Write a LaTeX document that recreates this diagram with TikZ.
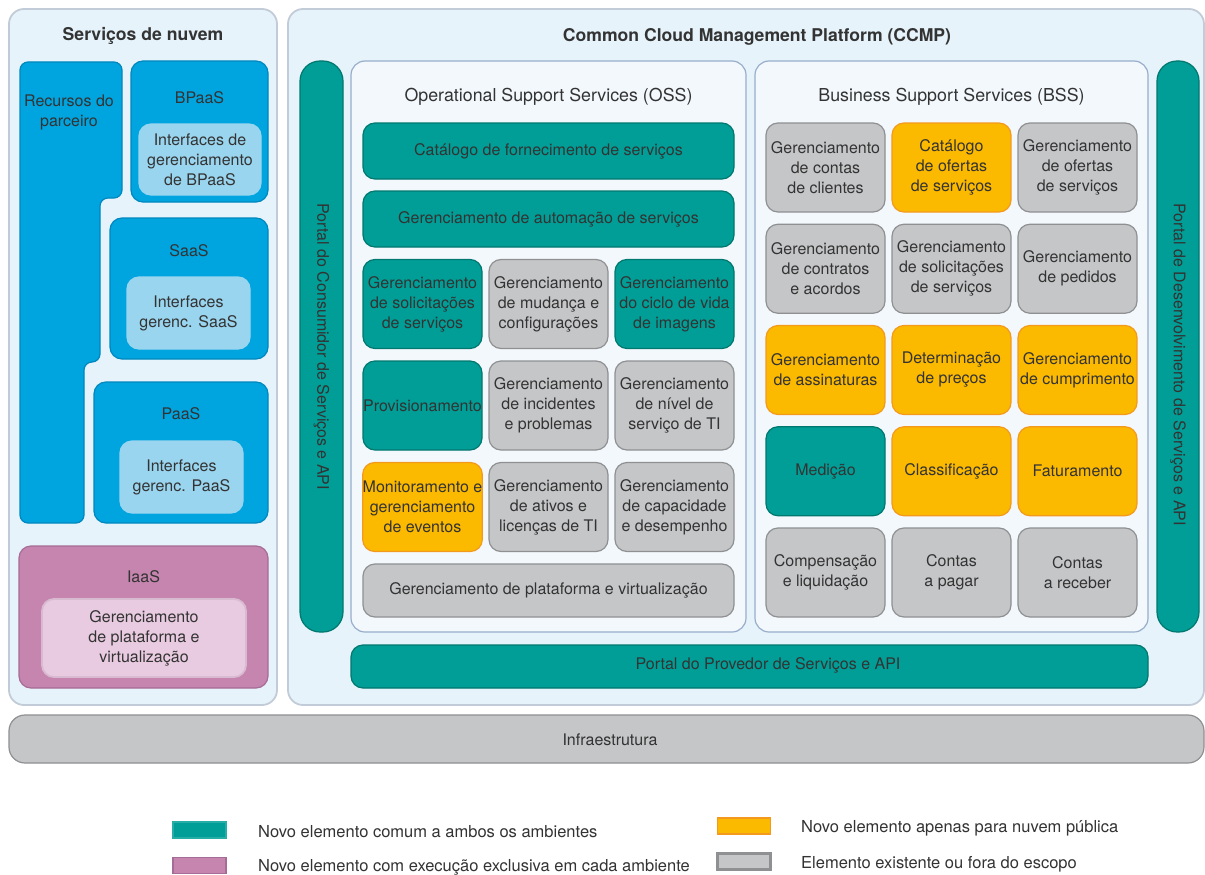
\documentclass[tikz,border=0pt]{standalone}
\usepackage{fontspec}
\setmainfont{TeX Gyre Heros}
\usepackage{tikz}
\usetikzlibrary{positioning}
\usepackage{xcolor}

\definecolor{txt}{HTML}{333333}
\definecolor{outerfill}{HTML}{E7F3FB}
\definecolor{outeredge}{HTML}{C2CCD8}
\definecolor{innerfill}{HTML}{F3F8FD}
\definecolor{inneredge}{HTML}{98AECA}
\definecolor{cblue}{HTML}{00A4DF}
\definecolor{cblueb}{HTML}{0087BE}
\definecolor{clblue}{HTML}{9AD5EF}
\definecolor{cpurple}{HTML}{C585AF}
\definecolor{cpurpleb}{HTML}{A56C96}
\definecolor{clpurple}{HTML}{E8CBE0}
\definecolor{clpurpleb}{HTML}{D8BBD0}
\definecolor{cteal}{HTML}{009E96}
\definecolor{ctealb}{HTML}{00776F}
\definecolor{corange}{HTML}{FBB900}
\definecolor{corangeb}{HTML}{F39A1E}
\definecolor{cgray}{HTML}{C5C6C8}
\definecolor{cgrayb}{HTML}{8F9092}

\tikzset{
  base/.style={rounded corners=12pt, line width=1.2pt, align=center, text=txt,
    font=\fontsize{16}{20}\selectfont, inner sep=0pt},
  outerpanel/.style={base, rounded corners=15pt, fill=outerfill, draw=outeredge, line width=1.8pt},
  innerpanel/.style={base, rounded corners=14pt, fill=innerfill, draw=inneredge},
  bluebox/.style={base, fill=cblue, draw=cblueb},
  lbluebox/.style={base, fill=clblue, draw=clblue},
  purplebox/.style={base, fill=cpurple, draw=cpurpleb},
  lpurplebox/.style={base, fill=clpurple, draw=clpurpleb, line width=1.8pt},
  tealbox/.style={base, fill=cteal, draw=ctealb},
  orangebox/.style={base, fill=corange, draw=corangeb},
  graybox/.style={base, fill=cgray, draw=cgrayb},
  bar/.style={base, rounded corners=20pt, fill=cteal, draw=ctealb},
  cell/.style={minimum width=119pt, minimum height=89pt},
  lbl/.style={text=txt, font=\fontsize{16}{20}\selectfont, inner sep=0pt, align=center},
  subtitle/.style={lbl, font=\fontsize{17.8}{20}\selectfont},
  legtext/.style={lbl, anchor=west, font=\fontsize{16.5}{20}\selectfont},
  title/.style={text=txt, font=\fontsize{17.6}{20}\selectfont\bfseries, inner sep=0pt},
  swatch/.style={line width=1.8pt, minimum width=53pt, minimum height=16pt, inner sep=0pt}
}

\begin{document}
\begin{tikzpicture}[x=1pt, y=-1pt]
\useasboundingbox (0,0) rectangle (1205,875);
\fill[white] (0,0) rectangle (1205,875);

% Servicos de nuvem
\node[outerpanel, minimum width=268pt, minimum height=696pt] (nuvem) at (143,357) {};
\node[title] (nuvem-t) at (143,36) {Serviços de nuvem};

\draw[fill=cblue, draw=cblueb, line width=1.2pt, rounded corners=8pt]
  (20,62) -- (122,62) -- (122,198) -- (100,198) -- (100,362) -- (84,362)
  -- (84,523) -- (20,523) -- cycle;
\node[lbl] (recursos) at (69,112) {Recursos do\\parceiro};

\node[bluebox, minimum width=137pt, minimum height=141pt] (bpaas) at (199.5,131.5) {};
\node[lbl] (bpaas-t) at (199.5,98) {BPaaS};
\node[lbluebox, minimum width=122pt, minimum height=71pt] (bpaas-i) at (200,159.5)
  {Interfaces de\\gerenciamento\\de BPaaS};

\node[bluebox, minimum width=158pt, minimum height=141pt] (saas) at (189,288.5) {};
\node[lbl] (saas-t) at (189,251) {SaaS};
\node[lbluebox, minimum width=123pt, minimum height=72pt] (saas-i) at (188.5,313)
  {Interfaces\\gerenc. SaaS};

\node[bluebox, minimum width=174pt, minimum height=141pt] (paas) at (181,452.5) {};
\node[lbl] (paas-t) at (181,414) {PaaS};
\node[lbluebox, minimum width=123pt, minimum height=72pt] (paas-i) at (181.5,477)
  {Interfaces\\gerenc. PaaS};

\node[purplebox, minimum width=249pt, minimum height=142pt] (iaas) at (143.5,617) {};
\node[lbl] (iaas-t) at (143.5,577) {IaaS};
\node[lpurplebox, minimum width=204pt, minimum height=78pt] (iaas-i) at (144,638)
  {Gerenciamento\\de plataforma e\\virtualização};

% CCMP
\node[outerpanel, minimum width=916pt, minimum height=696pt] (ccmp) at (746,357) {};
\node[title] (ccmp-t) at (757,37) {Common Cloud Management Platform (CCMP)};

\node[bar, minimum width=43pt, minimum height=571pt] (pcons) at (321.5,346.5) {};
\node[lbl, rotate=-90, anchor=west] (pcons-t) at (321.5,203)
  {Portal do Consumidor de Serviços e API};
\node[bar, minimum width=42pt, minimum height=571pt] (pdev) at (1178,346.5) {};
\node[lbl, rotate=-90, anchor=west] (pdev-t) at (1178,203)
  {Portal de Desenvolvimento de Serviços e API};

% OSS
\node[innerpanel, minimum width=395pt, minimum height=571pt] (oss) at (548.5,346.5) {};
\node[subtitle] (oss-t) at (548.5,97) {Operational Support Services (OSS)};
\node[tealbox, minimum width=371pt, minimum height=56pt] (oss-cat) at (548.5,151)
  {Catálogo de fornecimento de serviços};
\node[tealbox, minimum width=371pt, minimum height=56pt] (oss-auto) at (548.5,219)
  {Gerenciamento de automação de serviços};
\foreach \r/\c/\s/\t in {
  1/1/tealbox/{Gerenciamento\\de solicitações\\de serviços},
  1/2/graybox/{Gerenciamento\\de mudança e\\configurações},
  1/3/tealbox/{Gerenciamento\\do ciclo de vida\\de imagens},
  2/1/tealbox/{Provisionamento},
  2/2/graybox/{Gerenciamento\\de incidentes\\e problemas},
  2/3/graybox/{Gerenciamento\\de nível de\\serviço de TI},
  3/1/orangebox/{Monitoramento e\\gerenciamento\\de eventos},
  3/2/graybox/{Gerenciamento\\de ativos e\\licenças de TI},
  3/3/graybox/{Gerenciamento\\de capacidade\\e desempenho}}
  \node[\s, cell] (oss-\r-\c) at ({422.5+126*(\c-1)},{304+101.5*(\r-1)}) {\t};
\node[graybox, minimum width=371pt, minimum height=53pt] (oss-plat) at (548.5,590.5)
  {Gerenciamento de plataforma e virtualização};

% BSS
\node[innerpanel, minimum width=393pt, minimum height=571pt] (bss) at (951.5,346.5) {};
\node[subtitle] (bss-t) at (951.5,97) {Business Support Services (BSS)};
\foreach \r/\c/\s/\t in {
  1/1/graybox/{Gerenciamento\\de contas\\de clientes},
  1/2/orangebox/{Catálogo\\de ofertas\\de serviços},
  1/3/graybox/{Gerenciamento\\de ofertas\\de serviços},
  2/1/graybox/{Gerenciamento\\de contratos\\e acordos},
  2/2/graybox/{Gerenciamento\\de solicitações\\de serviços},
  2/3/graybox/{Gerenciamento\\de pedidos},
  3/1/orangebox/{Gerenciamento\\de assinaturas},
  3/2/orangebox/{Determinação\\de preços},
  3/3/orangebox/{Gerenciamento\\de cumprimento},
  4/1/tealbox/{Medição},
  4/2/orangebox/{Classificação},
  4/3/orangebox/{Faturamento},
  5/1/graybox/{Compensação\\e liquidação},
  5/2/graybox/{Contas\\a pagar},
  5/3/graybox/{Contas\\a receber}}
  \node[\s, cell] (bss-\r-\c) at ({825.5+126*(\c-1)},{167.5+101.25*(\r-1)}) {\t};

\node[tealbox, minimum width=797pt, minimum height=43pt] (pprov) at (749.5,666.5) {};
\node[lbl] (pprov-t) at (768,665) {Portal do Provedor de Serviços e API};

% Infraestrutura
\node[graybox, rounded corners=16pt, minimum width=1195pt, minimum height=48pt] (infra) at (606.5,739) {};
\node[lbl] (infra-t) at (610,740) {Infraestrutura};

% legenda
\node[swatch, fill=cteal, draw=cteal!85!white] (lg-teal) at (199.5,830) {};
\node[legtext] (lg-teal-t) at (258,832) {Novo elemento comum a ambos os ambientes};
\node[swatch, fill=cpurple, draw=cpurpleb] (lg-purple) at (199.5,865.5) {};
\node[legtext] (lg-purple-t) at (258,867) {Novo elemento com execução exclusiva em cada ambiente};
\node[swatch, fill=corange, draw=corangeb] (lg-orange) at (744,826) {};
\node[legtext] (lg-orange-t) at (801,828) {Novo elemento apenas para nuvem pública};
\node[swatch, fill=cgray, draw=cgrayb, line width=2.4pt] (lg-gray) at (744,861.5) {};
\node[legtext] (lg-gray-t) at (801,864) {Elemento existente ou fora do escopo};

\end{tikzpicture}
\end{document}
